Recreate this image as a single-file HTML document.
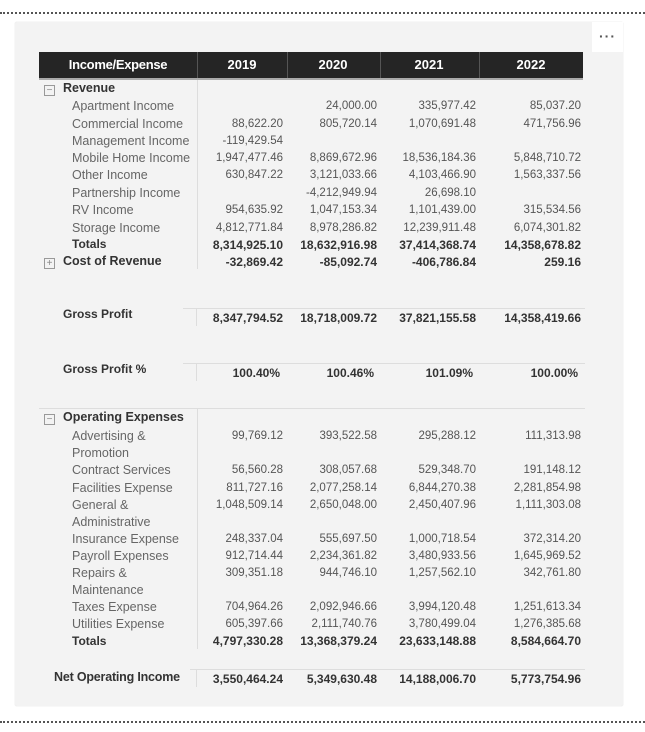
<!DOCTYPE html>
<html><head><meta charset="utf-8">
<style>
body{margin:0;width:645px;height:732px;background:#fff;position:relative;overflow:hidden;font-family:"Liberation Sans",sans-serif}
.a{position:absolute;white-space:nowrap}
.dot{position:absolute;left:0;width:645px;height:0;border-top:2px dotted #555}
.panel{position:absolute;left:15px;top:22px;width:608px;height:684px;background:#f3f3f3;border-radius:2px;box-shadow:0 0 1px #ccc}
.lbl{font-size:12.5px;color:#666;line-height:14px}
.b{font-weight:bold;color:#333;font-size:12px}
.v{font-size:11.5px;color:#555;text-align:right;line-height:14px}
.vb{font-size:12px;font-weight:bold;color:#333;text-align:right;line-height:14px}
.box{position:absolute;width:9px;height:9px;border:1px solid #999;font-size:10px;line-height:9px;text-align:center;color:#888}
.hl{position:absolute;height:1px;background:#ddd}
.vl{position:absolute;width:1px;background:#ddd}
</style></head><body>
<div class="dot" style="top:12px"></div>
<div class="dot" style="top:721px"></div>
<div class="panel"></div>
<div class="a" style="left:592px;top:22px;width:31px;height:30px;background:#fff;color:#555;font-size:14px;font-weight:bold;text-align:center;line-height:28px;letter-spacing:1px">···</div>
<div class="a" style="left:39px;top:52px;width:544px;height:26px;background:#252525;border-bottom:2px solid #aaa"></div>
<div id="root"></div>
<script>
const years=["2019","2020","2021","2022"];
const headerCenters=[242,333,429,531];
const colRight=[283,377,476,581];
const revLabels=["Apartment Income","Commercial Income","Management Income","Mobile Home Income","Other Income","Partnership Income","RV Income","Storage Income"];
const revValues=[
["","24,000.00","335,977.42","85,037.20"],
["88,622.20","805,720.14","1,070,691.48","471,756.96"],
["-119,429.54","","",""],
["1,947,477.46","8,869,672.96","18,536,184.36","5,848,710.72"],
["630,847.22","3,121,033.66","4,103,466.90","1,563,337.56"],
["","-4,212,949.94","26,698.10",""],
["954,635.92","1,047,153.34","1,101,439.00","315,534.56"],
["4,812,771.84","8,978,286.82","12,239,911.48","6,074,301.82"]];
const revY=[106,123.5,140.5,157.5,175,192.5,209.5,227.5];
const revTotals=["8,314,925.10","18,632,916.98","37,414,368.74","14,358,678.82"];
const costRev=["-32,869.42","-85,092.74","-406,786.84","259.16"];
const grossProfit=["8,347,794.52","18,718,009.72","37,821,155.58","14,358,419.66"];
const grossPct=["100.40%","100.46%","101.09%","100.00%"];
const opLabels=[["Advertising &","Promotion"],["Contract Services"],["Facilities Expense"],["General &","Administrative"],["Insurance Expense"],["Payroll Expenses"],["Repairs &","Maintenance"],["Taxes Expense"],["Utilities Expense"]];
const opValues=[
["99,769.12","393,522.58","295,288.12","111,313.98"],
["56,560.28","308,057.68","529,348.70","191,148.12"],
["811,727.16","2,077,258.14","6,844,270.38","2,281,854.98"],
["1,048,509.14","2,650,048.00","2,450,407.96","1,111,303.08"],
["248,337.04","555,697.50","1,000,718.54","372,314.20"],
["912,714.44","2,234,361.82","3,480,933.56","1,645,969.52"],
["309,351.18","944,746.10","1,257,562.10","342,761.80"],
["704,964.26","2,092,946.66","3,994,120.48","1,251,613.34"],
["605,397.66","2,111,740.76","3,780,499.04","1,276,385.68"]];
const opY=[436,470,487.5,504.5,539,556,573,606.5,623.5];
const opTotals=["4,797,330.28","13,368,379.24","23,633,148.88","8,584,664.70"];
const netIncome=["3,550,464.24","5,349,630.48","14,188,006.70","5,773,754.96"];

const root=document.getElementById('root');
function el(cls,style,text){const d=document.createElement('div');d.className=cls;d.style.cssText=style;if(text!==undefined)d.textContent=text;root.appendChild(d);return d;}
function val(txt,i,y,bold,extra){const d=el('a '+(bold?'vb':'v'),'left:'+(colRight[i]-110)+'px;width:110px;top:'+(y-7)+'px;'+(extra||''),txt);return d;}

let h=el('a','left:58px;width:120px;top:55px;text-align:center;color:#fff;font-weight:bold;font-size:13px;line-height:20px;letter-spacing:-0.3px','Income/Expense');


years.forEach((y,i)=>{const d=el('a','left:'+(headerCenters[i]-40)+'px;width:80px;top:55px;text-align:center;color:#fff;font-weight:bold;font-size:13px;line-height:20px',y);

});
[197,287,380,479].forEach(x=>{const d=el('vl','left:'+x+'px;top:52px;height:26px;background:#555');

});

let v1=el('vl','left:197px;top:80px;height:189px');


let v2=el('vl','left:197px;top:409px;height:240px');


[[308,326],[363,381],[669,687]].forEach(p=>{const d=el('vl','left:196px;top:'+p[0]+'px;height:'+(p[1]-p[0])+'px');

});
[[183,308],[183,363],[39,408],[190,669]].forEach(p=>{const d=el('hl','left:'+p[0]+'px;top:'+p[1]+'px;width:'+(585-p[0])+'px');

});

function sec(label,y,sign,name){
 const b=el('box','left:44px;top:'+(y-4)+'px',sign);
 
 
 const l=el('a lbl b','left:63px;top:'+(y-8)+'px;font-size:12.5px',label);
 
 
}
sec('Revenue',89,'−','revenue');
revLabels.forEach((t,r)=>{const l=el('a lbl','left:72px;top:'+(revY[r]-7)+'px',t);


revValues[r].forEach((v,i)=>{if(!v)return;const d=val(v,i,revY[r]);

});});
let t1=el('a lbl b','left:72px;top:237px','Totals');


revTotals.forEach((v,i)=>{const d=val(v,i,244.5,true);

});
sec('Cost of Revenue',261.5,'+','cost-of-revenue');
costRev.forEach((v,i)=>{const d=val(v,i,261.5,true);

});

let g=el('a lbl b','left:63px;top:307px','Gross Profit');


grossProfit.forEach((v,i)=>{const d=val(v,i,318,true);

});
let gp=el('a lbl b','left:63px;top:362px','Gross Profit %');


grossPct.forEach((v,i)=>{const d=val(v,i,373,true,'margin-left:-3px');

});

sec('Operating Expenses',418,'−','operating-expenses');
opLabels.forEach((t,r)=>{t.forEach((line,k)=>{const l=el('a lbl','left:72px;top:'+(opY[r]-7+k*17)+'px',line);

});
opValues[r].forEach((v,i)=>{const d=val(v,i,opY[r]);

});});
let t2=el('a lbl b','left:72px;top:634px','Totals');


opTotals.forEach((v,i)=>{const d=val(v,i,641,true);

});

let n=el('a lbl b','left:54px;top:670px;font-size:12.5px;letter-spacing:-0.2px','Net Operating Income');


netIncome.forEach((v,i)=>{const d=val(v,i,679,true);

});
</script>
</body></html>
